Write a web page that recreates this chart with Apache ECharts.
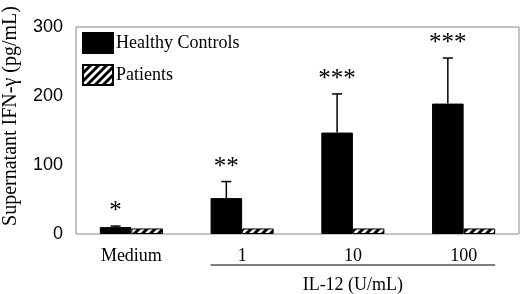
<!DOCTYPE html>
<html>
<head>
<meta charset="utf-8">
<script src="https://cdn.jsdelivr.net/npm/echarts@6/dist/echarts.min.js"></script>
<style>
  html, body { margin: 0; background: #fff; }
  #chart { width: 520px; height: 294px; }
</style>
</head>
<body>
<div id="chart"></div>
<script>
var categories = ['Medium', '1', '10', '100'];
var healthy = [10, 52, 147, 189];
var healthyErr = [1.5, 24, 56, 66];
var patients = [8, 8, 8, 8];
var stars = ['*', '**', '***', '***'];

var serif = '"Liberation Serif", "Times New Roman", serif';
var gapPct = 0.43;

// hatched fill for the patients bars
var hatch = document.createElement('canvas');
hatch.width = 8; hatch.height = 8;
var hc = hatch.getContext('2d');
hc.fillStyle = '#fff';
hc.fillRect(0, 0, 8, 8);
hc.strokeStyle = '#000';
hc.lineWidth = 3;
hc.beginPath();
hc.moveTo(-2, 10); hc.lineTo(10, -2);
hc.moveTo(-6, 6); hc.lineTo(6, -6);
hc.moveTo(2, 14); hc.lineTo(14, 2);
hc.stroke();

var chart = echarts.init(document.getElementById('chart'));

chart.setOption({
  animation: false,
  grid: { left: 76, right: 1, top: 27, bottom: 60, show: true, borderColor: '#888', borderWidth: 1, backgroundColor: 'transparent' },
  legend: {
    orient: 'vertical', left: 82, top: 32, padding: 0, itemWidth: 30, itemHeight: 20, itemGap: 10,
    icon: 'rect',
    data: ['Healthy Controls', 'Patients'],
    textStyle: { fontFamily: serif, fontSize: 18, color: '#000', padding: [0, 0, 0, -2] }
  },
  xAxis: {
    type: 'category', data: categories,
    axisLine: { show: false }, axisTick: { show: false },
    axisLabel: { fontFamily: serif, fontSize: 18, color: '#000', margin: 13 }
  },
  yAxis: {
    type: 'value', min: 0, max: 300, interval: 100,
    axisLine: { show: false }, axisTick: { show: false }, splitLine: { show: false },
    axisLabel: { fontFamily: '"Liberation Sans", Arial, sans-serif', fontSize: 18, color: '#000', margin: 13 }
  },
  series: [
    {
      name: 'Healthy Controls', type: 'bar', data: healthy,
      barGap: '0%', barCategoryGap: (gapPct * 100) + '%',
      itemStyle: { color: '#000', borderColor: '#000', borderWidth: 1 }
    },
    {
      name: 'Patients', type: 'bar', data: patients,
      itemStyle: { color: { image: hatch, repeat: 'repeat' }, borderColor: '#000', borderWidth: 1 }
    },
    {
      type: 'custom', silent: true, z: 5,
      data: healthy.map(function (v, i) { return [i, v, healthyErr[i]]; }),
      renderItem: function (params, api) {
        var i = api.value(0), v = api.value(1), e = api.value(2);
        var base = api.coord([i, v]);
        var top = api.coord([i, v + e]);
        var bw = api.size([1, 0])[0] * (1 - gapPct) / 2;
        var x = base[0] - bw / 2;
        return {
          type: 'group',
          children: [
            { type: 'line', shape: { x1: x, y1: base[1], x2: x, y2: top[1] }, style: { stroke: '#000', lineWidth: 1.5 } },
            { type: 'line', shape: { x1: x - 5, y1: top[1], x2: x + 5, y2: top[1] }, style: { stroke: '#000', lineWidth: 1.5 } },
            { type: 'text', style: { text: stars[params.dataIndex], x: x, y: top[1] - 2, align: 'center', verticalAlign: 'bottom', font: '25px ' + serif, fill: '#000' } }
          ]
        };
      }
    }
  ]
});

// bracket under the IL-12 doses
var c1 = chart.convertToPixel({ xAxisIndex: 0 }, '1');
var c3 = chart.convertToPixel({ xAxisIndex: 0 }, '100');
var catW = c3 - chart.convertToPixel({ xAxisIndex: 0 }, '10');
var bw = catW * (1 - gapPct) / 2;
var bottomY = chart.convertToPixel({ yAxisIndex: 0 }, 0);

chart.setOption({
  graphic: [
    { type: 'line', shape: { x1: c1 - bw, y1: bottomY + 31, x2: c3 + bw, y2: bottomY + 31 }, style: { stroke: '#000', lineWidth: 1.2 } },
    { type: 'text', x: (c1 + c3) / 2, y: bottomY + 51, style: { text: 'IL-12 (U/mL)', align: 'center', verticalAlign: 'middle', font: '18px ' + serif, fill: '#000' } },
    { type: 'text', x: 11, y: 116, rotation: Math.PI / 2, style: { text: 'Supernatant IFN-\u03b3 (pg/mL)', align: 'center', verticalAlign: 'middle', font: '20px ' + serif, fill: '#000' } }
  ]
});
</script>
</body>
</html>
